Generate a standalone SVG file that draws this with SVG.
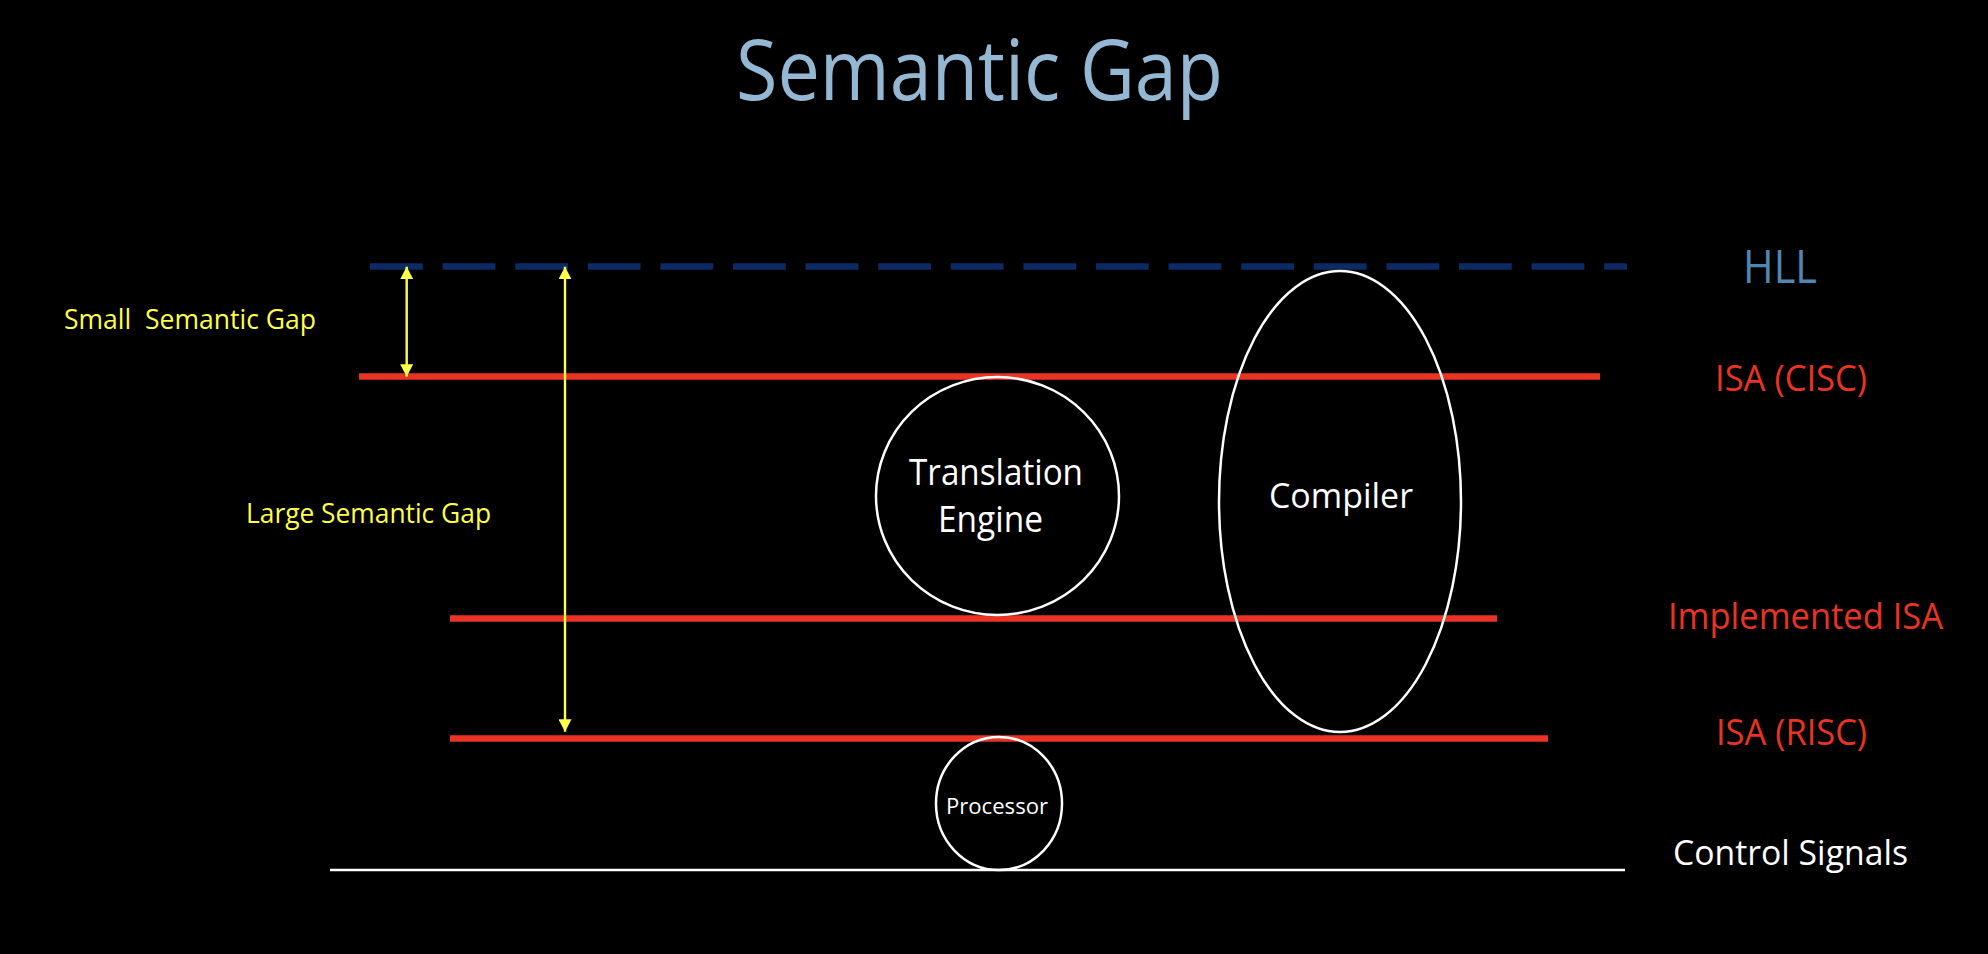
<svg xmlns="http://www.w3.org/2000/svg" width="1988" height="954" viewBox="0 0 1988 954">
<defs>
<style>
.t{font-family:"Open Sans","Liberation Sans",sans-serif;}
.red{fill:#EA3323;}
.yel{fill:#FFFF4A;}
.wht{fill:#FFFFFF;}
.lvl{stroke:#EA3323;stroke-width:6.7;fill:none;}
.node{fill:none;stroke:#FFFFFF;stroke-width:2.5;}
.arr{stroke:#FFFF4A;stroke-width:2.4;fill:none;marker-start:url(#ah);marker-end:url(#ah);}
</style>
<marker id="ah" viewBox="0 0 12.5 13" refX="12.5" refY="6.5" markerWidth="12.5" markerHeight="13" markerUnits="userSpaceOnUse" orient="auto-start-reverse">
<path d="M0,0 L12.5,6.5 L0,13 Z" fill="#FFFF4A"/>
</marker>
</defs>
<rect x="0" y="0" width="1988" height="954" fill="#000000"/>
<text class="t" x="736" y="100" font-size="84" fill="#94B8D3" textLength="487" lengthAdjust="spacingAndGlyphs">Semantic Gap</text>

<g id="levels">
<line x1="370" y1="266.5" x2="1627" y2="266.5" stroke="#0C2A63" stroke-width="6.6" stroke-dasharray="52.8 19.8"/>
<line class="lvl" x1="359" y1="376.5" x2="1600" y2="376.5"/>
<line class="lvl" x1="450" y1="618.5" x2="1497" y2="618.5"/>
<line class="lvl" x1="450" y1="738.5" x2="1548" y2="738.5"/>
<line x1="330" y1="870" x2="1625" y2="870" stroke="#FFFFFF" stroke-width="2.5"/>
</g>

<g id="labels">
<text class="t" x="1743" y="283" font-size="45" fill="#4E87B3" textLength="74" lengthAdjust="spacingAndGlyphs">HLL</text>
<text class="t red" x="1715" y="391" font-size="36" textLength="152" lengthAdjust="spacingAndGlyphs">ISA (CISC)</text>
<text class="t red" x="1668" y="629" font-size="36" textLength="275" lengthAdjust="spacingAndGlyphs">Implemented ISA</text>
<text class="t red" x="1716" y="745" font-size="36" textLength="151" lengthAdjust="spacingAndGlyphs">ISA (RISC)</text>
<text class="t wht" x="1673" y="865" font-size="35" textLength="235" lengthAdjust="spacingAndGlyphs">Control Signals</text>
<text class="t yel" x="64" y="329" font-size="28" textLength="252" lengthAdjust="spacingAndGlyphs" xml:space="preserve">Small  Semantic Gap</text>
<text class="t yel" x="246" y="523" font-size="28" textLength="245" lengthAdjust="spacingAndGlyphs">Large Semantic Gap</text>
</g>

<g id="connectors">
<line class="arr" x1="406.7" y1="266.7" x2="406.7" y2="376.7"/>
<line class="arr" x1="565" y1="266.7" x2="565" y2="731.7"/>
</g>

<g id="translation-engine">
<ellipse class="node" cx="997.5" cy="496" rx="121.5" ry="119"/>
<text class="t wht" x="909" y="485" font-size="36" textLength="174" lengthAdjust="spacingAndGlyphs">Translation</text>
<text class="t wht" x="938" y="532" font-size="36" textLength="105" lengthAdjust="spacingAndGlyphs">Engine</text>
</g>

<g id="compiler">
<ellipse class="node" cx="1340" cy="501.5" rx="121" ry="230.5"/>
<text class="t wht" x="1269" y="508" font-size="35" textLength="144" lengthAdjust="spacingAndGlyphs">Compiler</text>
</g>

<g id="processor">
<ellipse class="node" cx="999" cy="803.5" rx="63" ry="66.5"/>
<text class="t wht" x="946" y="814" font-size="22.5" textLength="102" lengthAdjust="spacingAndGlyphs">Processor</text>
</g>
</svg>
